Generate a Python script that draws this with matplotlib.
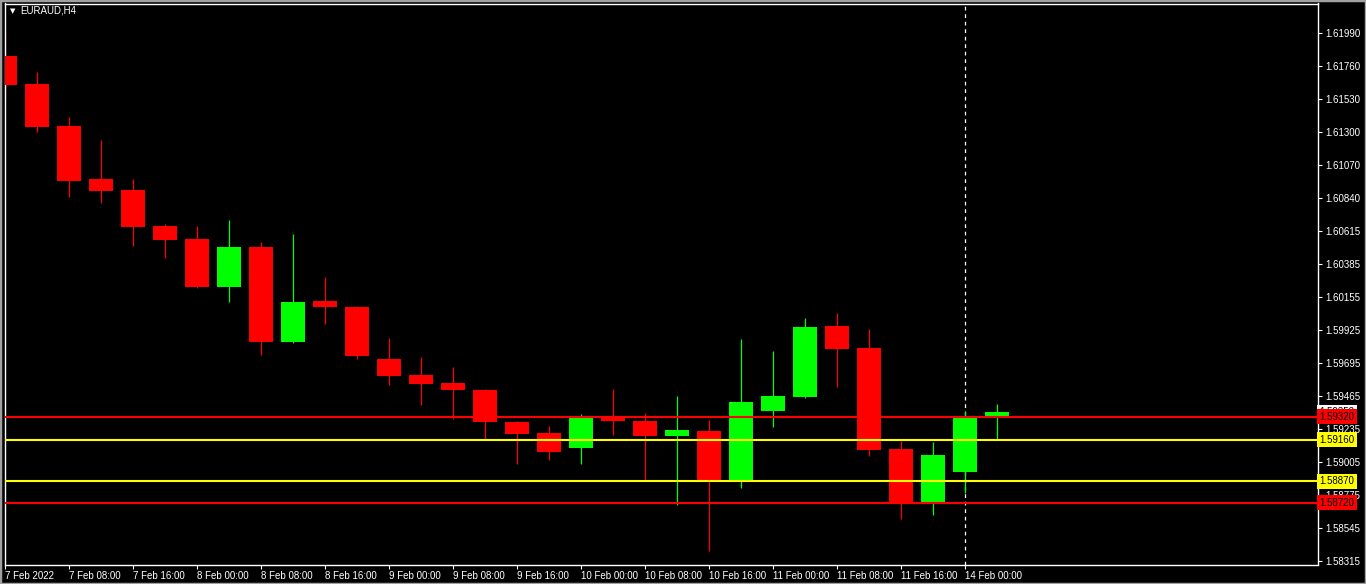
import numpy as np
import matplotlib.pyplot as plt

# EURAUD H4 candles, 7 Feb 2022 00:00 .. 14 Feb 04:00
opens = [1.61830, 1.61635, 1.61343, 1.60974, 1.60897, 1.60647, 1.60556, 1.60222,
         1.60501, 1.59839, 1.60125, 1.60083, 1.59721, 1.59610, 1.59554, 1.59505,
         1.59283, 1.59206, 1.59102, 1.59324, 1.59289, 1.59185, 1.59220, 1.58879,
         1.59359, 1.59456, 1.59951, 1.59798, 1.59095, 1.58726, 1.58934, 1.59324]
highs = [1.61997, 1.61719, 1.61405, 1.61245, 1.60974, 1.60661, 1.60647, 1.60688,
         1.60535, 1.60591, 1.60292, 1.60090, 1.59867, 1.59735, 1.59665, 1.59512,
         1.59289, 1.59255, 1.59338, 1.59512, 1.59345, 1.59463, 1.59296, 1.59860,
         1.59777, 1.60006, 1.60041, 1.59930, 1.59150, 1.59143, 1.59359, 1.59408]
lows = [1.61538, 1.61301, 1.60849, 1.60807, 1.60507, 1.60424, 1.60215, 1.60118,
        1.59749, 1.59832, 1.59965, 1.59721, 1.59540, 1.59401, 1.59303, 1.59164,
        1.58990, 1.59018, 1.58990, 1.59192, 1.58872, 1.58705, 1.58385, 1.58823,
        1.59248, 1.59449, 1.59526, 1.59046, 1.58607, 1.58635, 1.58788, 1.59164]
closes = [1.61628, 1.61336, 1.60960, 1.60890, 1.60640, 1.60549, 1.60222, 1.60501,
          1.59839, 1.60118, 1.60083, 1.59742, 1.59603, 1.59547, 1.59505, 1.59283,
          1.59199, 1.59074, 1.59310, 1.59289, 1.59185, 1.59227, 1.58872, 1.59422,
          1.59463, 1.59944, 1.59791, 1.59088, 1.58726, 1.59053, 1.59310, 1.59352]

time_ticks = [0, 2, 4, 6, 8, 10, 12, 14, 16, 18, 20, 22, 24, 26, 28, 30]
time_labels = ['7 Feb 2022', '7 Feb 08:00', '7 Feb 16:00', '8 Feb 00:00', '8 Feb 08:00',
               '8 Feb 16:00', '9 Feb 00:00', '9 Feb 08:00', '9 Feb 16:00', '10 Feb 00:00',
               '10 Feb 08:00', '10 Feb 16:00', '11 Feb 00:00', '11 Feb 08:00',
               '11 Feb 16:00', '14 Feb 00:00']
price_ticks = [1.61990, 1.61760, 1.61530, 1.61300, 1.61070, 1.60840, 1.60615, 1.60385,
               1.60155, 1.59925, 1.59695, 1.59465, 1.59235, 1.59005, 1.58775, 1.58545,
               1.58315]
levels = [1.59320, 1.59160, 1.58870, 1.58720]
level_colors = ['#ff0000', '#ffff00', '#ffff00', '#ff0000']

plt.rcParams['font.family'] = ['Liberation Sans', 'DejaVu Sans']

W, H = 1366, 584
fig = plt.figure(figsize=(W / 100, H / 100), dpi=100, facecolor='black')
ax = fig.add_axes([4.5 / W, (H - 564.5) / H, (1318 - 4.5) / W, (564.5 - 3.5) / H])
ax.set_facecolor('black')

n = len(opens)
x = np.arange(n)
o = np.array(opens)
c = np.array(closes)
up = c >= o
col = np.where(up, '#00ff00', '#ff0000')

ax.vlines(x, lows, highs, colors=col, linewidth=0.9, zorder=2)
body_lo = np.minimum(o, c)
body_h = np.maximum(np.abs(c - o), 0.00005)
ax.bar(x, body_h, bottom=body_lo, width=0.78, color=col, linewidth=0, zorder=3)

for lv, lc in zip(levels, level_colors):
    ax.axhline(lv, color=lc, linewidth=1.5, zorder=4)

ax.axvline(30, color='white', linewidth=0.9, linestyle=(0, (3, 3)), zorder=1)

ax.set_xlim(-0.5 / 32, (1318 - 5) / 32)
ax.set_ylim(1.58291, 1.62195)

# axes styling
for s in ax.spines.values():
    s.set_color('white')
    s.set_linewidth(1)

ax.yaxis.tick_right()
ax.set_yticks(price_ticks)
ax.set_yticklabels([f'{p:.5f}' for p in price_ticks])
ax.tick_params(axis='y', colors='white', labelcolor='white', labelsize=7, length=3,
               width=0.8, pad=2)

ax.set_xticks(time_ticks)
ax.set_xticklabels(time_labels, ha='left')
ax.tick_params(axis='x', colors='white', labelcolor='white', labelsize=7, length=3,
               width=0.8, pad=1.5)

# price labels for the horizontal levels and current bid
ax.text(1.001, closes[-1], f'{closes[-1]:.5f}', transform=ax.get_yaxis_transform(),
        ha='left', va='center', fontsize=7, color='black', clip_on=False, zorder=5,
        bbox=dict(boxstyle='square,pad=0.25', fc='white', ec='none'))
for lv, lc in zip(levels, level_colors):
    ax.text(1.001, lv, f'{lv:.5f}', transform=ax.get_yaxis_transform(),
            ha='left', va='center', fontsize=7, color='black', clip_on=False, zorder=6,
            bbox=dict(boxstyle='square,pad=0.25', fc=lc, ec='none'))

# symbol caption
ax.text(0.0045, 0.987, '\u25bc', transform=ax.transAxes, fontsize=5, color='white',
        family='DejaVu Sans', va='center', ha='left')
ax.text(0.012, 0.987, 'EURAUD,H4', transform=ax.transAxes, fontsize=7, color='white',
        va='center', ha='left')

# grey outer frame
fig.patches.append(plt.Rectangle((0, 0), 1, 1, transform=fig.transFigure, fill=False,
                                 edgecolor='#a0a0a0', linewidth=2.5))

fig.savefig('out.png', dpi=100, facecolor='black')
